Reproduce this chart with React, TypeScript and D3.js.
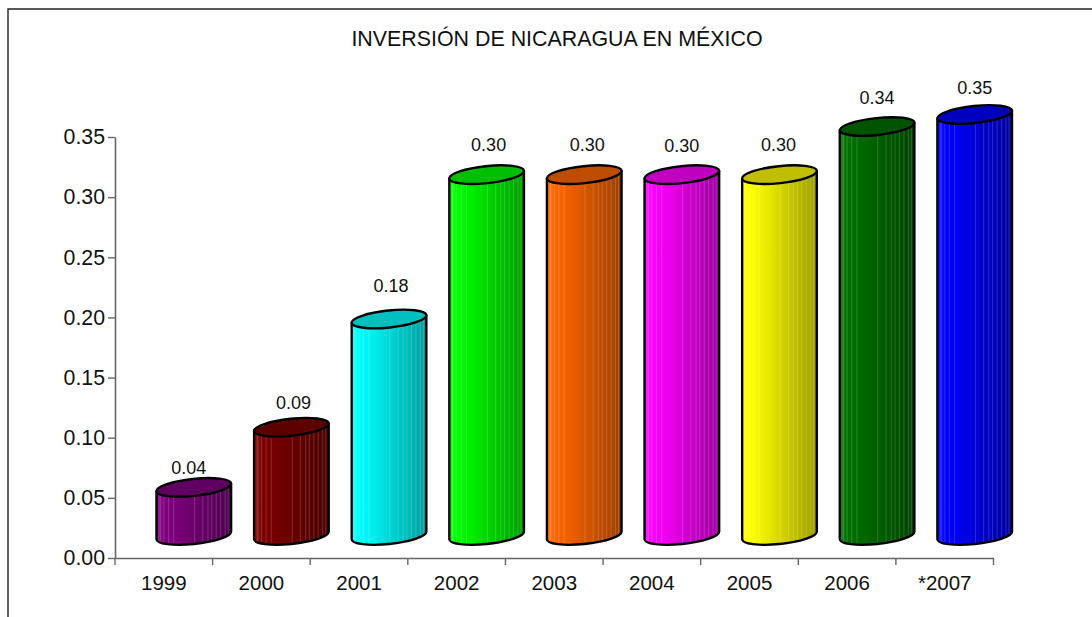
import React, { useRef, useEffect } from 'react';
import * as d3 from 'd3';

const years = ['1999', '2000', '2001', '2002', '2003', '2004', '2005', '2006', '*2007'];
const values = [0.04, 0.09, 0.18, 0.30, 0.30, 0.30, 0.30, 0.34, 0.35];
const barColors = ['#800080', '#7c0000', '#00ffff', '#00ff00', '#ff6600', '#ff00ff', '#ffff00', '#007000', '#0000ff'];
const yTicks = [0, 0.05, 0.10, 0.15, 0.20, 0.25, 0.30, 0.35];

// small nudges of the value labels, as they sit in the picture
const labelDx = [-5, 2, 2, 2, 3, 0, -1, 0, 0];
const labelDy = [-13.5, -18.5, -26.5, -23.5, -23.5, -22.5, -23.5, -22.5, -20.5];

// where the thin light lines fall across a cylinder (0 = left, 1 = right)
const stripes = [0.05, 0.1, 0.16, 0.23, 0.51, 0.62, 0.69, 0.74, 0.8, 0.86, 0.92, 0.96];

const W = 1092;
const H = 617;

const App: React.FC = () => {
    const svgRef = useRef<SVGSVGElement | null>(null);

    useEffect(() => {
        const svg = d3.select(svgRef.current);
        svg.selectAll('*').remove();

        const x = d3.scaleBand<string>().domain(years).range([115, 993.5]);
        const y = d3.scaleLinear().domain([0, 0.35]).range([558, 137]);

        const depthX = 30;
        const depthY = -22.5;
        const rx = 37.5;
        const ry = 8.5;
        const tilt = -6;
        const t = (tilt * Math.PI) / 180;
        const xExt = Math.sqrt(rx * rx * Math.cos(t) ** 2 + ry * ry * Math.sin(t) ** 2);
        const tanY = ((rx * rx - ry * ry) * Math.sin(t) * Math.cos(t)) / xExt;

        const defs = svg.append('defs');

        // frame: only top and left sides are in the picture
        svg.append('path')
            .attr('d', `M8,${H} V9 H${W}`)
            .attr('fill', 'none')
            .attr('stroke', '#222')
            .attr('stroke-width', 1.4);

        svg.append('text')
            .attr('x', 557)
            .attr('y', 46)
            .attr('text-anchor', 'middle')
            .style('font-family', '"Liberation Sans", Arial, sans-serif')
            .style('font-size', '21.4px')
            .attr('fill', '#111')
            .text('INVERSIÓN DE NICARAGUA EN MÉXICO');

        // axes
        const axisY = svg.append('g').attr('transform', 'translate(115,0)').call(
            d3.axisLeft(y).tickValues(yTicks).tickFormat(d3.format('.2f') as any).tickSize(7).tickSizeOuter(0).tickPadding(3)
        );
        const axisX = svg.append('g').attr('transform', 'translate(0,558)').call(
            d3.axisBottom(x).tickSize(0).tickSizeOuter(0).tickPadding(17)
        );
        axisX.selectAll('.tick').select('line').remove();
        axisX.selectAll('.boundary')
            .data(d3.range(years.length + 1))
            .enter()
            .append('line')
            .attr('x1', i => 115 + i * x.step())
            .attr('x2', i => 115 + i * x.step())
            .attr('y1', 0)
            .attr('y2', 7);

        [axisY, axisX].forEach(a => {
            a.selectAll('path.domain').attr('stroke', '#666').attr('stroke-width', 1.6);
            a.selectAll('line').attr('stroke', '#666').attr('stroke-width', 1.4);
            a.selectAll('text')
                .attr('fill', '#111')
                .style('font-family', '"Liberation Sans", Arial, sans-serif')
                .style('font-size', '20.5px');
        });
        axisY.selectAll('text').style('font-size', '21.3px');

        // cylinders
        years.forEach((year, i) => {
            const base = d3.rgb(barColors[i]);
            const cx = (x(year) as number) + x.bandwidth() / 2 + depthX;
            const topY = y(values[i]) + depthY;
            const botY = y(0) + depthY;
            const shade = (k: number) => d3.rgb(base.r * k, base.g * k, base.b * k).formatRgb();
            const lift = d3.interpolateRgb(barColors[i], '#ffffff');

            const grad = defs.append('linearGradient').attr('id', `body${i}`);
            [
                [0, lift(0.15)],
                [0.1, base.formatRgb()],
                [0.3, shade(0.93)],
                [0.6, shade(0.8)],
                [1, shade(0.62)],
            ].forEach(([offset, color]) => {
                grad.append('stop').attr('offset', offset as number).attr('stop-color', color as string);
            });

            const g = svg.append('g');
            const bodyPath =
                `M${cx - xExt},${topY - tanY} V${botY - tanY} ` +
                `A${rx},${ry} ${tilt} 0 0 ${cx + xExt},${botY + tanY} V${topY + tanY} Z`;

            g.append('path').attr('d', bodyPath).attr('fill', `url(#body${i})`);

            const clipId = `clip${i}`;
            defs.append('clipPath').attr('id', clipId).append('path').attr('d', bodyPath);
            g.append('g')
                .attr('clip-path', `url(#${clipId})`)
                .selectAll('line')
                .data(stripes)
                .enter()
                .append('line')
                .attr('x1', f => cx - xExt + f * 2 * xExt)
                .attr('x2', f => cx - xExt + f * 2 * xExt)
                .attr('y1', topY - 20)
                .attr('y2', botY + 20)
                .attr('stroke', '#fff')
                .attr('stroke-opacity', 0.22)
                .attr('stroke-width', 0.8);

            g.append('path')
                .attr('d', bodyPath)
                .attr('fill', 'none')
                .attr('stroke', '#000')
                .attr('stroke-width', 2.4)
                .attr('stroke-linejoin', 'round');

            g.append('ellipse')
                .attr('cx', 0)
                .attr('cy', 0)
                .attr('rx', rx)
                .attr('ry', ry)
                .attr('transform', `translate(${cx},${topY}) rotate(${tilt})`)
                .attr('fill', shade(0.75))
                .attr('stroke', '#000')
                .attr('stroke-width', 2.4);

            svg.append('text')
                .attr('x', cx + labelDx[i])
                .attr('y', topY + labelDy[i])
                .attr('text-anchor', 'middle')
                .style('font-family', '"Liberation Sans", Arial, sans-serif')
                .style('font-size', '18px')
                .attr('fill', '#111')
                .text(d3.format('.2f')(values[i]));
        });
    }, []);

    return <svg ref={svgRef} width={W} height={H} style={{ position: 'absolute', left: 0, top: 0, background: '#fff' }} />;
};

export default App;
